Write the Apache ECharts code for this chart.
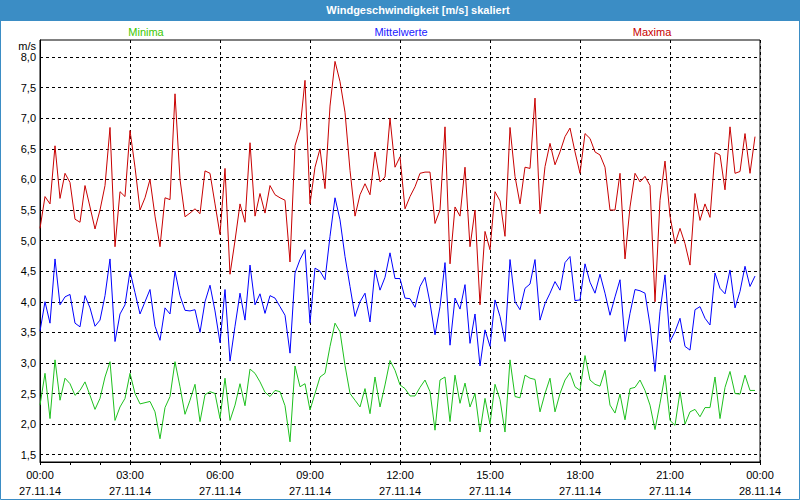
<!DOCTYPE html>
<html>
<head>
<meta charset="utf-8">
<script src="https://cdn.jsdelivr.net/npm/echarts@6/dist/echarts.min.js"></script>
<style>
html,body{margin:0;padding:0;background:#fff;}
#chart{width:800px;height:500px;}
</style>
</head>
<body>
<div id="chart"></div>
<script>
// ---- data (10-minute steps, 27.11.14 00:00 .. 23:50) ----
const stepMinutes = 10;
const maxima = [
5.2,5.72,5.6,6.55,5.69,6.1,5.95,5.35,5.3,5.9,5.55,5.19,5.5,5.9,6.85,4.9,5.8,5.72,6.8,6.2,
5.5,5.7,6.0,5.4,4.9,5.7,5.67,7.4,6.0,5.39,5.45,5.52,5.44,6.14,6.1,5.6,5.1,6.18,4.45,5.0,
5.6,5.3,6.6,5.4,5.77,5.45,5.9,5.75,5.7,5.66,4.65,6.55,6.82,7.62,5.6,6.2,6.5,5.85,7.2,7.93,
7.6,7.1,6.15,5.4,5.75,5.93,5.75,6.45,5.96,6.04,7.0,6.2,6.37,5.52,5.72,5.88,6.1,6.12,6.12,5.28,
5.5,6.86,4.62,5.55,5.4,6.2,4.9,5.5,3.95,5.15,4.85,5.8,5.65,5.07,6.85,6.05,5.6,6.2,6.18,7.33,
5.44,6.21,6.59,6.24,6.45,6.7,6.84,6.45,6.1,6.75,6.67,6.45,6.4,6.2,5.5,5.5,6.1,4.7,5.55,6.1,
5.96,6.05,5.9,4.0,5.66,6.3,5.4,4.95,5.2,4.95,4.6,5.77,5.33,5.6,5.38,6.44,6.4,5.83,6.86,6.1,
6.13,6.75,6.1,6.7
];
const mittelwerte = [
3.52,4.0,3.65,4.7,3.95,4.08,4.12,3.65,3.59,4.1,3.9,3.6,3.7,4.1,4.7,3.35,3.8,3.95,4.5,4.15,
3.8,4.0,4.2,3.6,3.37,3.9,3.8,4.5,4.1,3.86,3.85,3.87,3.5,4.0,4.27,3.85,3.33,4.2,3.03,3.6,
4.14,3.7,4.6,3.95,4.13,3.81,4.1,4.06,3.92,3.78,3.16,4.47,4.69,4.85,3.65,4.55,4.5,4.36,5.07,5.7,
5.34,4.74,4.25,3.76,4.0,4.14,3.67,4.52,4.19,4.4,4.8,4.38,4.38,4.06,4.05,3.91,4.25,4.4,3.98,3.46,
3.92,4.64,3.29,4.06,3.88,4.28,3.32,3.8,2.95,3.54,3.27,4.03,3.76,3.35,4.69,4.0,3.87,4.22,4.29,4.69,
3.7,3.97,4.14,4.33,4.19,4.64,4.74,4.02,4.03,4.62,4.32,4.14,4.45,4.14,3.78,4.08,4.36,3.35,3.81,4.2,
4.18,4.14,3.62,2.86,3.84,4.44,3.35,3.51,3.73,3.27,3.21,3.87,3.92,3.73,3.62,4.47,4.22,4.13,4.52,3.9,
4.17,4.58,4.25,4.42
];
const minima = [
2.31,2.83,2.09,3.05,2.39,2.75,2.66,2.47,2.55,2.69,2.47,2.24,2.42,2.77,3.02,2.06,2.28,2.42,2.83,2.5,
2.33,2.35,2.37,2.2,1.76,2.27,2.45,3.02,2.61,2.16,2.39,2.65,2.04,2.48,2.53,2.5,2.09,2.75,2.06,2.31,
2.66,2.3,2.9,2.83,2.69,2.52,2.45,2.55,2.53,2.3,1.71,2.95,2.61,2.66,2.23,2.5,2.77,2.83,3.27,3.65,
3.51,2.96,2.5,2.39,2.28,2.58,2.17,2.77,2.28,2.64,3.04,2.88,2.64,2.58,2.46,2.46,2.6,2.72,2.53,1.9,
2.72,2.77,2.04,2.8,2.34,2.67,2.28,2.5,1.87,2.42,2.0,2.65,2.4,1.87,3.05,2.45,2.43,2.8,2.75,2.73,
2.2,2.5,2.75,2.2,2.5,2.72,2.84,2.61,2.55,3.12,2.72,2.65,2.62,2.88,2.31,2.18,2.49,2.07,2.58,2.6,
2.72,2.55,2.31,1.91,2.34,2.8,2.06,1.98,2.53,2.0,2.2,2.24,2.12,2.27,2.27,2.77,2.09,2.6,2.86,2.5,
2.49,2.8,2.55,2.55
];
const xTickTimes = ['00:00','03:00','06:00','09:00','12:00','15:00','18:00','21:00','00:00'];
const xTickDates = ['27.11.14','27.11.14','27.11.14','27.11.14','27.11.14','27.11.14','27.11.14','27.11.14','28.11.14'];
const seriesNames = ['Minima','Mittelwerte','Maxima'];
const yUnit = 'm/s';
const chartTitle = 'Windgeschwindigkeit [m/s] skaliert';

// ---- layout ----
const FONT = '"Liberation Sans", Arial, sans-serif';
const plotLeft = 40, plotTop = 40, plotWidth = 720, plotHeight = 422;
const yMin = 1.38, yMax = 8.28;          // visible range of the plot frame
const gMin = 1.5, gMax = 8.0, gStep = 0.5; // labelled / gridded range
const gTop = plotTop + (yMax - gMax) / (yMax - yMin) * plotHeight;
const gHeight = (gMax - gMin) / (yMax - yMin) * plotHeight;
const dash = [3, 3];
const colors = { min: '#1ec01e', mid: '#0000ff', max: '#c80000' };

const toPairs = arr => arr.map((v, i) => [i * stepMinutes, v]);

const chart = echarts.init(document.getElementById('chart'), null, { renderer: 'svg' });

chart.setOption({
  animation: false,
  backgroundColor: '#ffffff',
  grid: [
    { left: plotLeft, top: plotTop, width: plotWidth, height: plotHeight,
      show: true, borderColor: '#000', borderWidth: 1, backgroundColor: 'transparent' },
    { left: plotLeft, top: gTop, width: plotWidth, height: gHeight, show: false }
  ],
  xAxis: [
    { type: 'value', gridIndex: 0, min: 0, max: 1440, interval: 180,
      axisLine: { show: true, lineStyle: { color: '#000', width: 1 } },
      axisTick: { show: true, length: 3, lineStyle: { color: '#000' } },
      minorTick: { show: true, splitNumber: 3, length: 3, lineStyle: { color: '#000' } },
      splitLine: { show: true, lineStyle: { color: '#000', type: dash, width: 1 } },
      axisLabel: {
        margin: 5, fontSize: 11, fontFamily: FONT, color: '#000', lineHeight: 16,
        formatter: function (val) {
          const k = Math.round(val / 180);
          return xTickTimes[k] + '\n' + xTickDates[k];
        }
      }
    },
    { type: 'value', gridIndex: 1, min: 0, max: 1440, show: false }
  ],
  yAxis: [
    { type: 'value', gridIndex: 0, min: yMin, max: yMax,
      axisLine: { show: true, lineStyle: { color: '#000', width: 1 } },
      axisTick: { show: false }, axisLabel: { show: false }, splitLine: { show: false } },
    { type: 'value', gridIndex: 1, min: gMin, max: gMax, interval: gStep,
      axisLine: { show: false }, axisTick: { show: false },
      splitLine: { show: true, lineStyle: { color: '#000', type: dash, width: 1 } },
      axisLabel: { margin: 4, fontSize: 11, fontFamily: FONT, color: '#000',
        formatter: v => v.toFixed(1).replace('.', ',') } }
  ],
  series: [
    { name: seriesNames[0], type: 'line', xAxisIndex: 0, yAxisIndex: 0, data: toPairs(minima),
      showSymbol: false, lineStyle: { color: colors.min, width: 1 }, itemStyle: { color: colors.min }, z: 3 },
    { name: seriesNames[1], type: 'line', xAxisIndex: 0, yAxisIndex: 0, data: toPairs(mittelwerte),
      showSymbol: false, lineStyle: { color: colors.mid, width: 1 }, itemStyle: { color: colors.mid }, z: 3 },
    { name: seriesNames[2], type: 'line', xAxisIndex: 0, yAxisIndex: 0, data: toPairs(maxima),
      showSymbol: false, lineStyle: { color: colors.max, width: 1 }, itemStyle: { color: colors.max }, z: 3 }
  ],
  graphic: [
    { type: 'rect', z: 0, silent: true, shape: { x: 0, y: 0, width: 800, height: 21 },
      style: { fill: '#3b8dc5' } },
    { type: 'rect', z: 100, silent: true, shape: { x: 0.5, y: 0.5, width: 799, height: 499 },
      style: { fill: 'none', stroke: '#3b8dc5', lineWidth: 1 } },
    { type: 'text', z: 101, x: 418, y: 10, silent: true,
      style: { text: chartTitle, fill: '#ffffff', font: 'bold 11px ' + FONT,
        align: 'center', verticalAlign: 'middle', textAlign: 'center', textVerticalAlign: 'middle' } },
    { type: 'text', z: 101, x: 146, y: 32, silent: true,
      style: { text: seriesNames[0], fill: '#3cc800', font: '11px ' + FONT,
        align: 'center', verticalAlign: 'middle', textAlign: 'center', textVerticalAlign: 'middle' } },
    { type: 'text', z: 101, x: 401, y: 32, silent: true,
      style: { text: seriesNames[1], fill: '#2020ff', font: '11px ' + FONT,
        align: 'center', verticalAlign: 'middle', textAlign: 'center', textVerticalAlign: 'middle' } },
    { type: 'text', z: 101, x: 652, y: 32, silent: true,
      style: { text: seriesNames[2], fill: '#c80000', font: '11px ' + FONT,
        align: 'center', verticalAlign: 'middle', textAlign: 'center', textVerticalAlign: 'middle' } },
    { type: 'text', z: 101, x: 36, y: 46, silent: true,
      style: { text: yUnit, fill: '#000', font: '11px ' + FONT,
        align: 'right', verticalAlign: 'middle', textAlign: 'right', textVerticalAlign: 'middle' } }
  ]
});
</script>
</body>
</html>
